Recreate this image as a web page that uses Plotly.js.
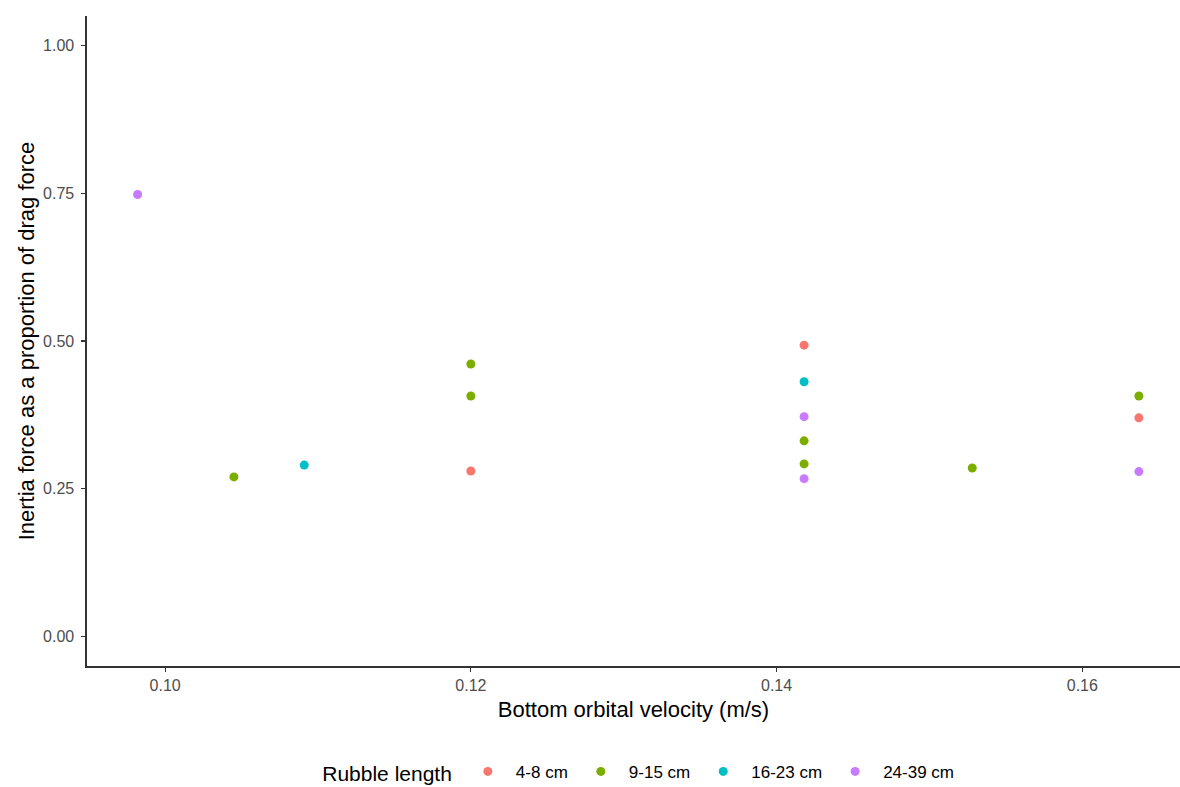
<!DOCTYPE html>
<html>
<head>
<meta charset="utf-8">
<script src="https://cdn.plot.ly/plotly-3.0.1.min.js"></script>
<style>html,body{margin:0;padding:0;background:#fff;}#chart{width:1180px;height:787px;}</style>
</head>
<body>
<div id="chart"></div>
<script>
// Data
var groups = ["4-8 cm", "9-15 cm", "16-23 cm", "24-39 cm"];
var colors = ["#F8766D", "#7CAE00", "#00BFC4", "#C77CFF"];

var x_4_8 = [0.1200, 0.1418, 0.1637];
var y_4_8 = [0.280, 0.493, 0.370];

var x_9_15 = [0.1045, 0.1200, 0.1200, 0.1418, 0.1418, 0.1528, 0.1637];
var y_9_15 = [0.270, 0.461, 0.407, 0.331, 0.292, 0.285, 0.407];

var x_16_23 = [0.1091, 0.1418];
var y_16_23 = [0.290, 0.431];

var x_24_39 = [0.0982, 0.1418, 0.1418, 0.1637];
var y_24_39 = [0.748, 0.372, 0.267, 0.279];

var xs = [x_4_8, x_9_15, x_16_23, x_24_39];
var ys = [y_4_8, y_9_15, y_16_23, y_24_39];

var xTickVals = [0.10, 0.12, 0.14, 0.16];
var xTickText = ["0.10", "0.12", "0.14", "0.16"];
var yTickVals = [0, 0.25, 0.5, 0.75, 1.0];
var yTickText = ["0.00", "0.25", "0.50", "0.75", "1.00"];

var traces = groups.map(function(g, i) {
  return {
    type: "scatter",
    mode: "markers",
    name: g,
    x: xs[i],
    y: ys[i],
    marker: {color: colors[i], size: 9, line: {width: 0}}
  };
});

var font = "Liberation Sans, Arial, sans-serif";

var layout = {
  width: 1180,
  height: 787,
  paper_bgcolor: "#ffffff",
  plot_bgcolor: "#ffffff",
  margin: {l: 87, r: 0, t: 16, b: 121},
  font: {family: font, color: "#000"},
  showlegend: true,
  xaxis: {
    range: [0.09489, 0.16639],
    tickvals: xTickVals,
    ticktext: xTickText,
    showgrid: false,
    zeroline: false,
    showline: true,
    linecolor: "#333333",
    linewidth: 1.6,
    ticks: "outside",
    ticklen: 4,
    tickwidth: 1.2,
    tickcolor: "#333333",
    tickfont: {family: font, size: 16, color: "#4d4d4d"},
    title: {text: "Bottom orbital velocity (m/s)", font: {family: font, size: 22, color: "#000"}, standoff: 9}
  },
  yaxis: {
    range: [-0.05, 1.05],
    tickvals: yTickVals,
    ticktext: yTickText,
    showgrid: false,
    zeroline: false,
    showline: true,
    linecolor: "#333333",
    linewidth: 1.6,
    ticks: "outside",
    ticklen: 4,
    tickwidth: 1.2,
    tickcolor: "#333333",
    ticklabelstandoff: 4,
    tickfont: {family: font, size: 16, color: "#4d4d4d"},
    title: {text: "Inertia force as a proportion of drag force", font: {family: font, size: 22, color: "#000"}, standoff: 2}
  },
  legend: {
    orientation: "h",
    xref: "container",
    yref: "container",
    x: 0.2714,
    xanchor: "left",
    y: 0.018,
    yanchor: "middle",
    font: {family: font, size: 17, color: "#000"},
    title: {text: "Rubble length", side: "left", font: {family: font, size: 21, color: "#000"}},
    itemwidth: 46,
    tracegroupgap: 0
  }
};

Plotly.newPlot("chart", traces, layout, {displayModeBar: false, staticPlot: true});
</script>
</body>
</html>
